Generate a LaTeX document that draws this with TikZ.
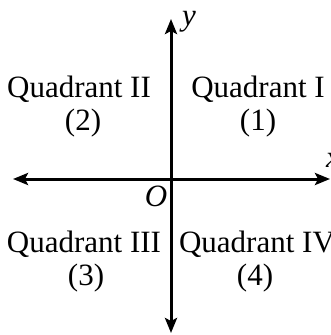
\documentclass[tikz,border=0pt]{standalone}
\usepackage{fontspec}
\setmainfont{Liberation Serif}
\usepackage{tikz}
\usetikzlibrary{arrows.meta, positioning, calc}

\begin{document}
\begin{tikzpicture}[x=1pt, y=-1pt,
    asse/.style={line width=3pt, {Stealth[length=15pt, width=12pt, inset=3pt]}-{Stealth[length=15pt, width=12pt, inset=3pt]}},
    testo/.style={font=\fontsize{31}{34}\selectfont, inner sep=0pt, anchor=base}]
    \useasboundingbox (0,0) rectangle (331,335);

    % Assi
    \coordinate (O) at (171,179);
    \coordinate (sx) at (13,179);
    \coordinate (dx) at (330,179);
    \coordinate (su) at (171,19);
    \coordinate (giu) at (171,333);
    \draw[asse] (sx) -- (dx);
    \draw[asse] (giu) -- (su);

    % Etichette degli assi
    \node[testo] (ly) at (189,25) {\textit{y}};
    \node[testo] (lx) at (333,167) {\textit{x}};
    \node[testo] (lO) at (156,206) {\textit{O}};

    % Quadranti
    \node[testo] (q1) at (258,97) {Quadrant I};
    \node[testo] (n1) at (258,130) {(1)};
    \node[testo] (q2) at (79,97) {Quadrant II};
    \node[testo] (n2) at (83,130) {(2)};
    \node[testo] (q3) at (84,252) {Quadrant III};
    \node[testo] (n3) at (86,285) {(3)};
    \node[testo] (q4) at (257,252) {Quadrant IV};
    \node[testo] (n4) at (255,285) {(4)};

\end{tikzpicture}
\end{document}
